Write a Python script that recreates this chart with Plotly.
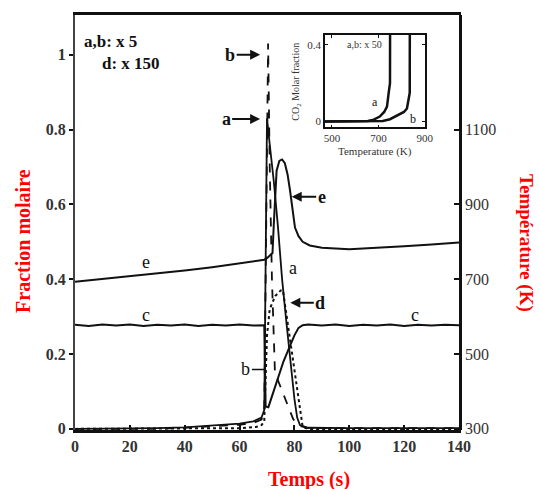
import plotly.graph_objects as go

# ---------------- data ----------------
t_e = [0, 10, 20, 30, 40, 50, 60, 66, 69, 70, 71, 72, 72.5, 73, 73.5, 74.5, 75.5, 76.5, 77.5, 78.4,
       79.3, 80.2, 81.5, 83, 85.6, 90, 100, 110, 120, 130, 140]
e_val = [0.393, 0.400, 0.407, 0.415, 0.423, 0.432, 0.442, 0.448, 0.452, 0.456, 0.462, 0.47, 0.55, 0.64,
         0.69, 0.716, 0.72, 0.71, 0.68, 0.637, 0.58, 0.538, 0.515, 0.50, 0.49, 0.484, 0.48, 0.483,
         0.488, 0.493, 0.498]

t_c = [0, 5, 10, 15, 20, 25, 30, 35, 40, 45, 50, 55, 60, 65, 69, 69.5, 70.5, 72, 74, 76, 78, 80,
       81.5, 83, 85, 90, 95, 100, 105, 110, 115, 120, 125, 130, 135, 140]
c_val = [0.278, 0.275, 0.279, 0.276, 0.279, 0.275, 0.278, 0.276, 0.279, 0.275, 0.278, 0.276, 0.279,
         0.276, 0.277, 0.06, 0.058, 0.09, 0.135, 0.18, 0.215, 0.25, 0.27, 0.277, 0.279, 0.276, 0.279,
         0.275, 0.278, 0.276, 0.279, 0.275, 0.278, 0.276, 0.278, 0.277]

t_a = [0, 20, 30, 40, 50, 60, 65, 68, 69, 69.5, 70, 71, 72.5, 74, 75.5, 77, 78.5, 80, 81, 82, 85, 100, 140]
a_val = [0, 0, 0.002, 0.004, 0.008, 0.014, 0.02, 0.03, 0.05, 0.5, 0.83, 0.76, 0.66, 0.54, 0.40,
         0.29, 0.18, 0.08, 0.03, 0.01, 0.003, 0.002, 0.002]

t_b = [0, 30, 40, 50, 60, 65, 68, 69, 69.8, 70.4, 71, 71.8, 72.9, 74, 76, 78, 79.5, 81, 85, 140]
b_val = [0, 0, 0.003, 0.006, 0.011, 0.016, 0.025, 0.045, 0.6, 1.03, 0.7, 0.40, 0.15, 0.13, 0.094,
         0.055, 0.027, 0.01, 0.002, 0.002]

t_d = [0, 60, 66, 68, 69, 70, 71, 73, 75, 75.8, 77, 79, 81, 83, 85, 140]
d_val = [0, 0.002, 0.005, 0.01, 0.02, 0.25, 0.32, 0.355, 0.37, 0.37, 0.31, 0.21, 0.11, 0.005, 0, 0]

# inset: CO2 molar fraction vs temperature
T_ia = [470, 550, 600, 655, 680, 706, 725, 737, 745, 750, 750.5]
a_ins = [0, 0, 0.001, 0.003, 0.01, 0.026, 0.05, 0.078, 0.156, 0.2, 0.6]
T_ib = [470, 600, 680, 719, 750, 792, 810, 823, 831, 835, 835.5]
b_ins = [0, 0, 0.001, 0.003, 0.012, 0.036, 0.05, 0.068, 0.114, 0.15, 0.6]

x_ticks = [0, 20, 40, 60, 80, 100, 120, 140]
y_ticks = [0, 0.2, 0.4, 0.6, 0.8, 1]
y_tick_text = ["0", "0.2", "0.4", "0.6", "0.8", "1"]
T_ticks = [300, 500, 700, 900, 1100]
inset_x_ticks = [500, 700, 900]
inset_y_ticks = [0, 0.4]

SERIF = "Liberation Serif"
BLACK = "#111111"

fig = go.Figure()
line = dict(color=BLACK, width=2)
fig.add_trace(go.Scatter(x=t_e, y=e_val, mode="lines", line=line, name="e"))
fig.add_trace(go.Scatter(x=t_c, y=c_val, mode="lines", line=line, name="c"))
fig.add_trace(go.Scatter(x=t_a, y=a_val, mode="lines", line=dict(color=BLACK, width=1.8), name="a"))
fig.add_trace(go.Scatter(x=t_b, y=b_val, mode="lines", line=dict(color=BLACK, width=1.8, dash="dash"), name="b"))
fig.add_trace(go.Scatter(x=t_d, y=d_val, mode="lines", line=dict(color=BLACK, width=2, dash="dot"), name="d"))
fig.add_trace(go.Scatter(x=[None], y=[None], yaxis="y2", mode="lines", showlegend=False, hoverinfo="skip"))

fig.add_trace(go.Scatter(x=T_ia, y=a_ins, xaxis="x2", yaxis="y3", mode="lines",
                         line=dict(color=BLACK, width=2.5)))
fig.add_trace(go.Scatter(x=T_ib, y=b_ins, xaxis="x2", yaxis="y3", mode="lines",
                         line=dict(color=BLACK, width=2.5)))

tickfont_b = dict(family=SERIF, size=16, color="#333333")
tickfont_bold = dict(family=SERIF, size=16, color="#333333", weight="bold")

fig.update_layout(
    width=539, height=489,
    margin=dict(l=75, r=80, t=13, b=59),
    paper_bgcolor="white", plot_bgcolor="white",
    showlegend=False,
    xaxis=dict(range=[0, 140], tickvals=x_ticks, ticks="inside", ticklen=5, tickwidth=1.5,
               tickcolor=BLACK, showline=True, linewidth=2.5, linecolor=BLACK, mirror=True,
               showgrid=False, zeroline=False, tickfont=tickfont_bold),
    yaxis=dict(range=[-0.003, 1.106], tickvals=y_ticks, ticktext=y_tick_text, ticks="outside",
               ticklen=4, tickwidth=1.5, tickcolor=BLACK, showline=True, linewidth=2,
               linecolor="#444444", mirror=True, showgrid=False, zeroline=False,
               tickfont=tickfont_bold),
    yaxis2=dict(range=[297, 1406], overlaying="y", side="right", tickvals=T_ticks, ticks="inside",
                ticklen=5, tickwidth=1.5, tickcolor=BLACK, showline=True, linewidth=2.5,
                linecolor=BLACK, showgrid=False, zeroline=False, tickfont=tickfont_b),
    xaxis2=dict(domain=[0.651, 0.911], anchor="y3", range=[470, 900], tickvals=inset_x_ticks,
                ticks="inside", ticklen=3, tickcolor=BLACK, showline=True, linewidth=1.5,
                linecolor=BLACK, mirror="ticks", showgrid=False, zeroline=False,
                tickfont=dict(family=SERIF, size=11, color="#333333")),
    yaxis3=dict(domain=[0.729, 0.952], anchor="x2", range=[-0.031, 0.452], tickvals=inset_y_ticks,
                ticks="inside", ticklen=3, tickcolor=BLACK, showline=True,
                linewidth=1.5, linecolor=BLACK, mirror="ticks", showgrid=False, zeroline=False,
                tickfont=dict(family=SERIF, size=11, color="#333333")),
)

anns = []
# axis titles
anns.append(dict(text="<b>Fraction molaire</b>", xref="paper", yref="paper", x=-0.135, y=0.456,
                 xanchor="center", yanchor="middle",
                 textangle=-90, showarrow=False, font=dict(family=SERIF, size=20, color="red")))
anns.append(dict(text="<b>Température (K)</b>", xref="paper", yref="paper", x=1.174, y=0.451,
                 xanchor="center", yanchor="middle",
                 textangle=90, showarrow=False, font=dict(family=SERIF, size=19, color="red")))
anns.append(dict(text="<b>Temps (s)</b>", xref="paper", yref="paper", x=0.609, y=-0.12,
                 xanchor="center", yanchor="middle",
                 showarrow=False, font=dict(family=SERIF, size=20, color="red")))
# scale factors
anns.append(dict(text="<b>a,b: x 5</b>", x=2.5, y=1.034, xanchor="left", showarrow=False,
                 font=dict(family=SERIF, size=17, color=BLACK)))
anns.append(dict(text="<b>d: x 150</b>", x=9.2, y=0.976, xanchor="left", showarrow=False,
                 font=dict(family=SERIF, size=17, color=BLACK)))
# arrows
arrow_font = dict(family=SERIF, size=18, color=BLACK)
for txt, xx, yy, ax in [("<b>b</b>", 67.5, 1.0, -30), ("<b>a</b>", 67.5, 0.828, -34),
                        ("<b>e</b>", 79.0, 0.62, 30), ("<b>d</b>", 78.5, 0.337, 30)]:
    anns.append(dict(text=txt, x=xx, y=yy, ax=ax, ay=0, showarrow=True, arrowhead=2,
                     arrowsize=1, arrowwidth=2, arrowcolor=BLACK, font=arrow_font))
anns.append(dict(text="b", x=69.6, y=0.159, ax=-20, ay=0, showarrow=True, arrowhead=0,
                 arrowwidth=1.5, arrowcolor=BLACK, font=arrow_font))
for txt, xx, yy in [("a", 79.5, 0.43), ("c", 25.8, 0.305), ("c", 124, 0.303), ("e", 25.8, 0.445)]:
    anns.append(dict(text=txt, x=xx, y=yy, showarrow=False, font=arrow_font))
# inset texts
anns.append(dict(text="a,b: x 50", x=642, y=0.4, xref="x2", yref="y3", showarrow=False,
                 font=dict(family=SERIF, size=10, color="#333333")))
anns.append(dict(text="a", x=685, y=0.104, xref="x2", yref="y3", showarrow=False,
                 font=dict(family=SERIF, size=12, color=BLACK)))
anns.append(dict(text="b", x=850, y=0.012, xref="x2", yref="y3", showarrow=False,
                 font=dict(family=SERIF, size=12, color=BLACK)))
anns.append(dict(text="CO<sub>2</sub> Molar fraction", xref="paper", yref="paper", x=0.578, y=0.839,
                 xanchor="center", yanchor="middle",
                 textangle=-90, showarrow=False, font=dict(family=SERIF, size=10, color="#333333")))
anns.append(dict(text="Temperature (K)", xref="paper", yref="paper", x=0.781, y=0.671,
                 xanchor="center", yanchor="middle",
                 showarrow=False, font=dict(family=SERIF, size=11, color="#333333")))
fig.update_layout(annotations=anns)

fig.write_html("out.html")
